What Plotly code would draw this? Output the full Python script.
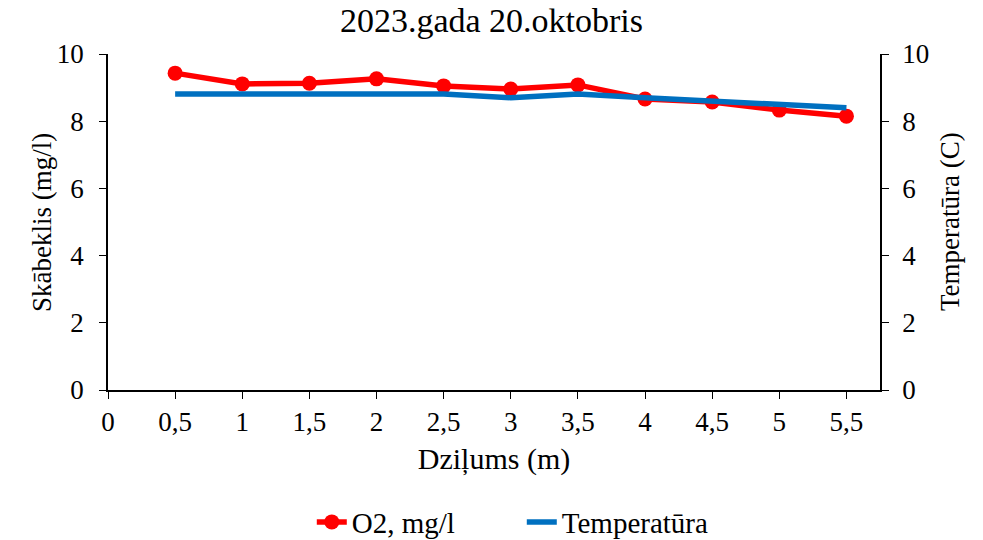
import plotly.graph_objects as go

depth = [0.5, 1, 1.5, 2, 2.5, 3, 3.5, 4, 4.5, 5, 5.5]
o2 = [9.43, 9.11, 9.13, 9.26, 9.05, 8.96, 9.08, 8.66, 8.57, 8.33, 8.15]
temp = [8.81, 8.81, 8.81, 8.81, 8.81, 8.70, 8.81, 8.70, 8.61, 8.51, 8.40]
xticks = [0, 0.5, 1, 1.5, 2, 2.5, 3, 3.5, 4, 4.5, 5, 5.5]
xlabels = ["0", "0,5", "1", "1,5", "2", "2,5", "3", "3,5", "4", "4,5", "5", "5,5"]
yticks = [0, 2, 4, 6, 8, 10]

font = "Liberation Serif"

fig = go.Figure()
fig.add_trace(go.Scatter(x=depth, y=o2, name="O2, mg/l", mode="lines+markers",
                         line=dict(color="#ff0000", width=5.5),
                         marker=dict(color="#ff0000", size=15)))
fig.add_trace(go.Scatter(x=depth, y=temp, name="Temperatūra", mode="lines",
                         line=dict(color="#0070c0", width=5.5), yaxis="y2"))

axis_common = dict(showgrid=False, zeroline=False, showline=True, linecolor="black",
                   linewidth=1.5, ticks="outside", ticklen=7, tickcolor="black",
                   automargin=False,
                   tickfont=dict(size=27, color="black", family=font))

fig.update_layout(
    width=983, height=540,
    margin=dict(l=108, r=103, t=54, b=150, autoexpand=False),
    paper_bgcolor="white", plot_bgcolor="white",
    font=dict(family=font, color="black"),
    title=dict(text="2023.gada 20.oktobris", x=0.5, xanchor="center", y=0.962, yanchor="middle",
               font=dict(size=34, family=font, color="black")),
    xaxis=dict(range=[0, 5.75], tickvals=xticks, ticktext=xlabels, ticklabelstandoff=0,
               title=dict(text="Dziļums (m)", font=dict(size=30, family=font), standoff=12),
               **axis_common),
    yaxis=dict(range=[0, 10], tickvals=yticks, ticklabelstandoff=10, **axis_common),
    yaxis2=dict(range=[0, 10], tickvals=yticks, overlaying="y", side="right", ticklabelstandoff=8,
                **axis_common),
    legend=dict(orientation="h", x=0.536, xanchor="center", y=-0.393, yanchor="middle",
                entrywidth=165, entrywidthmode="pixels",
                font=dict(size=29, family=font, color="black")),
    showlegend=True,
    annotations=[
        dict(text="Skābeklis (mg/l)", xref="paper", yref="paper", x=-0.0855, y=0.5,
             xanchor="center", yanchor="middle", textangle=-90, showarrow=False,
             font=dict(size=27, family=font, color="black")),
        dict(text="Temperatūra (C)", xref="paper", yref="paper", x=1.0907, y=0.5,
             xanchor="center", yanchor="middle", textangle=-90, showarrow=False,
             font=dict(size=27, family=font, color="black")),
    ],
)

fig.write_html("out.html")
